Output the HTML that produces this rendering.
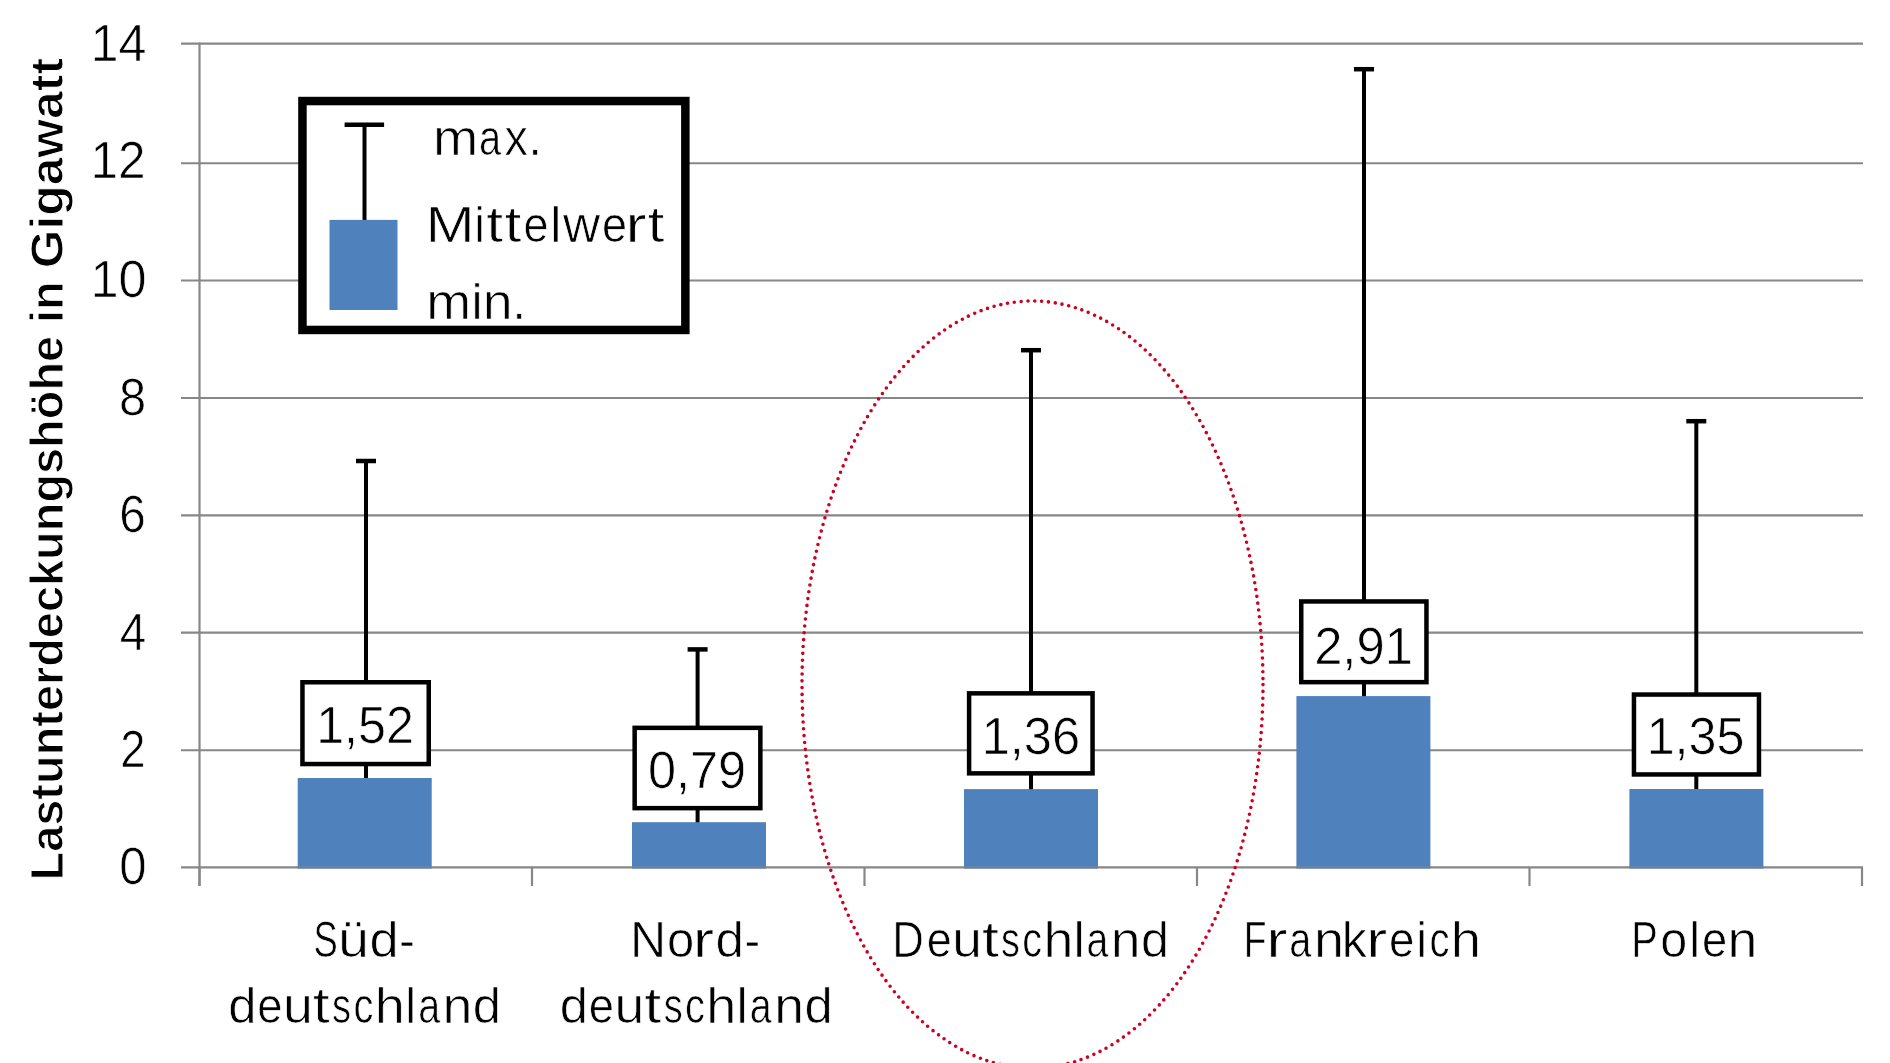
<!DOCTYPE html>
<html><head><meta charset="utf-8"><style>
html,body{margin:0;padding:0;background:#fff;width:1890px;height:1063px;overflow:hidden}
svg{display:block}
.t{font-family:"Liberation Sans", sans-serif;fill:#000;stroke:#fff;stroke-width:0.7px;filter:grayscale(1)}
.c{font-family:"Liberation Sans", sans-serif;fill:#000;stroke:#fff;stroke-width:0.7px;filter:grayscale(1)}
.b{font-family:"Liberation Sans", sans-serif;font-weight:bold;fill:#000;stroke:#fff;stroke-width:1.0px}
</style></head><body>
<svg width="1890" height="1063" viewBox="0 0 1890 1063">
<line x1="181" y1="43.69" x2="1863" y2="43.69" stroke="#878787" stroke-width="2.2"/>
<line x1="181" y1="163.27" x2="1863" y2="163.27" stroke="#878787" stroke-width="2.2"/>
<line x1="181" y1="280.52" x2="1863" y2="280.52" stroke="#878787" stroke-width="2.2"/>
<line x1="181" y1="397.98" x2="1863" y2="397.98" stroke="#878787" stroke-width="2.2"/>
<line x1="181" y1="515.38" x2="1863" y2="515.38" stroke="#878787" stroke-width="2.2"/>
<line x1="181" y1="632.70" x2="1863" y2="632.70" stroke="#878787" stroke-width="2.2"/>
<line x1="181" y1="750.24" x2="1863" y2="750.24" stroke="#878787" stroke-width="2.2"/>
<line x1="181" y1="867.42" x2="1863" y2="867.42" stroke="#878787" stroke-width="2.2"/>
<line x1="199.5" y1="42.49" x2="199.5" y2="886" stroke="#878787" stroke-width="2.2"/>
<line x1="199.50" y1="867.42" x2="199.50" y2="886" stroke="#878787" stroke-width="2.2"/>
<line x1="532.00" y1="867.42" x2="532.00" y2="886" stroke="#878787" stroke-width="2.2"/>
<line x1="864.50" y1="867.42" x2="864.50" y2="886" stroke="#878787" stroke-width="2.2"/>
<line x1="1197.00" y1="867.42" x2="1197.00" y2="886" stroke="#878787" stroke-width="2.2"/>
<line x1="1529.50" y1="867.42" x2="1529.50" y2="886" stroke="#878787" stroke-width="2.2"/>
<line x1="1862.00" y1="867.42" x2="1862.00" y2="886" stroke="#878787" stroke-width="2.2"/>
<text x="90.47" y="60.56" class="t" style="font-size:52.5px" textLength="55.90" lengthAdjust="spacingAndGlyphs">14</text>
<text x="90.52" y="178.13" class="t" style="font-size:52.5px" textLength="55.17" lengthAdjust="spacingAndGlyphs">12</text>
<text x="90.46" y="297.27" class="t" style="font-size:52.5px" textLength="56.11" lengthAdjust="spacingAndGlyphs">10</text>
<text x="118.98" y="414.87" class="t" style="font-size:52.5px" textLength="27.14" lengthAdjust="spacingAndGlyphs">8</text>
<text x="119.28" y="532.27" class="t" style="font-size:52.5px" textLength="26.52" lengthAdjust="spacingAndGlyphs">6</text>
<text x="119.81" y="649.66" class="t" style="font-size:52.5px" textLength="26.49" lengthAdjust="spacingAndGlyphs">4</text>
<text x="120.21" y="767.23" class="t" style="font-size:52.5px" textLength="25.27" lengthAdjust="spacingAndGlyphs">2</text>
<text x="119.18" y="884.47" class="t" style="font-size:52.5px" textLength="27.34" lengthAdjust="spacingAndGlyphs">0</text>
<line x1="366.0" y1="461.00" x2="366.0" y2="779.00" stroke="#000" stroke-width="4"/>
<line x1="356.0" y1="461.00" x2="376.0" y2="461.00" stroke="#000" stroke-width="4.5"/>
<rect x="297.70" y="778.00" width="134" height="90.52" fill="#4F81BD"/>
<line x1="297.70" y1="867.42" x2="431.70" y2="867.42" stroke="#878787" stroke-width="2.2" stroke-opacity="0.55"/>
<rect x="302.45" y="682.25" width="126.30" height="81.80" fill="#fff" stroke="#000" stroke-width="4.5"/>
<text x="316.17" y="743.30" class="t" style="font-size:52.5px" textLength="97.75" lengthAdjust="spacingAndGlyphs">1,52</text>
<line x1="697.6" y1="649.40" x2="697.6" y2="823.20" stroke="#000" stroke-width="4"/>
<line x1="687.6" y1="649.40" x2="707.6" y2="649.40" stroke="#000" stroke-width="4.5"/>
<rect x="632.00" y="822.20" width="134" height="46.32" fill="#4F81BD"/>
<line x1="632.00" y1="867.42" x2="766.00" y2="867.42" stroke="#878787" stroke-width="2.2" stroke-opacity="0.55"/>
<rect x="634.65" y="727.85" width="125.70" height="80.30" fill="#fff" stroke="#000" stroke-width="4.5"/>
<text x="648.03" y="788.00" class="t" style="font-size:52.5px" textLength="98.16" lengthAdjust="spacingAndGlyphs">0,79</text>
<line x1="1031.0" y1="350.20" x2="1031.0" y2="790.10" stroke="#000" stroke-width="4"/>
<line x1="1021.0" y1="350.20" x2="1041.0" y2="350.20" stroke="#000" stroke-width="4.5"/>
<rect x="964.00" y="789.10" width="134" height="79.42" fill="#4F81BD"/>
<line x1="964.00" y1="867.42" x2="1098.00" y2="867.42" stroke="#878787" stroke-width="2.2" stroke-opacity="0.55"/>
<rect x="969.10" y="693.35" width="123.45" height="80.00" fill="#fff" stroke="#000" stroke-width="4.5"/>
<text x="981.64" y="753.50" class="t" style="font-size:52.5px" textLength="98.58" lengthAdjust="spacingAndGlyphs">1,36</text>
<line x1="1364.0" y1="69.20" x2="1364.0" y2="697.10" stroke="#000" stroke-width="4"/>
<line x1="1354.0" y1="69.20" x2="1374.0" y2="69.20" stroke="#000" stroke-width="4.5"/>
<rect x="1296.40" y="696.10" width="134" height="172.42" fill="#4F81BD"/>
<line x1="1296.40" y1="867.42" x2="1430.40" y2="867.42" stroke="#878787" stroke-width="2.2" stroke-opacity="0.55"/>
<rect x="1301.25" y="601.45" width="125.20" height="80.70" fill="#fff" stroke="#000" stroke-width="4.5"/>
<text x="1314.15" y="663.50" class="t" style="font-size:52.5px" textLength="98.73" lengthAdjust="spacingAndGlyphs">2,91</text>
<line x1="1696.3" y1="421.20" x2="1696.3" y2="790.00" stroke="#000" stroke-width="4"/>
<line x1="1686.3" y1="421.20" x2="1706.3" y2="421.20" stroke="#000" stroke-width="4.5"/>
<rect x="1629.40" y="789.00" width="134" height="79.52" fill="#4F81BD"/>
<line x1="1629.40" y1="867.42" x2="1763.40" y2="867.42" stroke="#878787" stroke-width="2.2" stroke-opacity="0.55"/>
<rect x="1633.95" y="694.55" width="125.00" height="79.90" fill="#fff" stroke="#000" stroke-width="4.5"/>
<text x="1646.67" y="753.50" class="t" style="font-size:52.5px" textLength="97.84" lengthAdjust="spacingAndGlyphs">1,35</text>
<rect x="302.45" y="101.05" width="382.90" height="228.90" fill="#fff" stroke="#000" stroke-width="8.5"/>
<line x1="364.5" y1="124.7" x2="364.5" y2="221" stroke="#000" stroke-width="4"/>
<line x1="344.6" y1="124.7" x2="384.1" y2="124.7" stroke="#000" stroke-width="4.4"/>
<rect x="329.5" y="219.9" width="68" height="90.1" fill="#4F81BD"/>
<g class="c" style="font-size:50px"><text transform="translate(455.65,155.30) scale(1.088,1)" x="-20.84" y="0">m</text><text transform="translate(490.99,155.30) scale(0.795,1)" x="-14.97" y="0">a</text><text transform="translate(516.26,155.30) scale(0.936,1)" x="-12.51" y="0">x</text><text transform="translate(535.26,155.30) scale(1.000,1)" x="-6.95" y="0">.</text></g>
<g class="c" style="font-size:50px"><text transform="translate(450.06,241.80) scale(1.181,1)" x="-20.83" y="0">M</text><text transform="translate(479.61,241.80) scale(1.000,1)" x="-5.54" y="0">i</text><text transform="translate(495.00,241.80) scale(1.216,1)" x="-7.14" y="0">t</text><text transform="translate(513.26,241.80) scale(1.216,1)" x="-7.14" y="0">t</text><text transform="translate(535.95,241.80) scale(0.900,1)" x="-13.85" y="0">e</text><text transform="translate(555.76,241.80) scale(1.000,1)" x="-5.57" y="0">l</text><text transform="translate(581.50,241.80) scale(1.028,1)" x="-18.08" y="0">w</text><text transform="translate(614.54,241.80) scale(0.900,1)" x="-13.85" y="0">e</text><text transform="translate(637.60,241.80) scale(1.259,1)" x="-9.57" y="0">r</text><text transform="translate(656.23,241.80) scale(1.216,1)" x="-7.14" y="0">t</text></g>
<g class="c" style="font-size:50px"><text transform="translate(448.80,319.00) scale(1.079,1)" x="-20.84" y="0">m</text><text transform="translate(477.03,319.00) scale(1.000,1)" x="-5.54" y="0">i</text><text transform="translate(497.74,319.00) scale(1.073,1)" x="-13.94" y="0">n</text><text transform="translate(519.09,319.00) scale(1.000,1)" x="-6.95" y="0">.</text></g>
<g class="c" style="font-size:50.5px"><text transform="translate(325.68,956.80) scale(0.721,1)" x="-16.83" y="0">S</text><text transform="translate(353.63,956.80) scale(1.099,1)" x="-14.15" y="0">ü</text><text transform="translate(383.45,956.80) scale(1.038,1)" x="-13.48" y="0">d</text><text transform="translate(407.05,956.80) scale(0.949,1)" x="-8.41" y="0">-</text></g>
<g class="c" style="font-size:50.5px"><text transform="translate(241.70,1023.00) scale(1.004,1)" x="-13.48" y="0">d</text><text transform="translate(269.79,1023.00) scale(0.898,1)" x="-13.99" y="0">e</text><text transform="translate(297.87,1023.00) scale(1.063,1)" x="-14.01" y="0">u</text><text transform="translate(321.49,1023.00) scale(1.213,1)" x="-7.21" y="0">t</text><text transform="translate(341.42,1023.00) scale(0.751,1)" x="-12.42" y="0">s</text><text transform="translate(363.77,1023.00) scale(0.789,1)" x="-13.03" y="0">c</text><text transform="translate(389.80,1023.00) scale(1.071,1)" x="-14.15" y="0">h</text><text transform="translate(410.52,1023.00) scale(1.000,1)" x="-5.62" y="0">l</text><text transform="translate(429.98,1023.00) scale(0.781,1)" x="-15.12" y="0">a</text><text transform="translate(457.55,1023.00) scale(1.063,1)" x="-14.08" y="0">n</text><text transform="translate(486.40,1023.00) scale(1.004,1)" x="-13.48" y="0">d</text></g>
<g class="c" style="font-size:50.5px"><text transform="translate(648.11,956.80) scale(0.993,1)" x="-18.25" y="0">N</text><text transform="translate(680.62,956.80) scale(0.970,1)" x="-14.04" y="0">o</text><text transform="translate(704.91,956.80) scale(1.267,1)" x="-9.67" y="0">r</text><text transform="translate(729.13,956.80) scale(1.014,1)" x="-13.48" y="0">d</text><text transform="translate(752.19,956.80) scale(0.927,1)" x="-8.41" y="0">-</text></g>
<g class="c" style="font-size:50.5px"><text transform="translate(573.30,1023.00) scale(1.004,1)" x="-13.48" y="0">d</text><text transform="translate(601.39,1023.00) scale(0.898,1)" x="-13.99" y="0">e</text><text transform="translate(629.47,1023.00) scale(1.063,1)" x="-14.01" y="0">u</text><text transform="translate(653.09,1023.00) scale(1.213,1)" x="-7.21" y="0">t</text><text transform="translate(673.02,1023.00) scale(0.751,1)" x="-12.42" y="0">s</text><text transform="translate(695.37,1023.00) scale(0.789,1)" x="-13.03" y="0">c</text><text transform="translate(721.40,1023.00) scale(1.071,1)" x="-14.15" y="0">h</text><text transform="translate(742.12,1023.00) scale(1.000,1)" x="-5.62" y="0">l</text><text transform="translate(761.58,1023.00) scale(0.781,1)" x="-15.12" y="0">a</text><text transform="translate(789.15,1023.00) scale(1.063,1)" x="-14.08" y="0">n</text><text transform="translate(818.00,1023.00) scale(1.004,1)" x="-13.48" y="0">d</text></g>
<g class="c" style="font-size:50.5px"><text transform="translate(908.86,956.80) scale(0.867,1)" x="-19.10" y="0">D</text><text transform="translate(939.21,956.80) scale(0.892,1)" x="-13.99" y="0">e</text><text transform="translate(967.10,956.80) scale(1.056,1)" x="-14.01" y="0">u</text><text transform="translate(990.56,956.80) scale(1.205,1)" x="-7.21" y="0">t</text><text transform="translate(1010.36,956.80) scale(0.746,1)" x="-12.42" y="0">s</text><text transform="translate(1032.56,956.80) scale(0.784,1)" x="-13.03" y="0">c</text><text transform="translate(1058.42,956.80) scale(1.063,1)" x="-14.15" y="0">h</text><text transform="translate(1079.01,956.80) scale(1.000,1)" x="-5.62" y="0">l</text><text transform="translate(1098.33,956.80) scale(0.776,1)" x="-15.12" y="0">a</text><text transform="translate(1125.72,956.80) scale(1.056,1)" x="-14.08" y="0">n</text><text transform="translate(1154.37,956.80) scale(0.998,1)" x="-13.48" y="0">d</text></g>
<g class="c" style="font-size:50.5px"><text transform="translate(1256.00,956.80) scale(0.738,1)" x="-16.48" y="0">F</text><text transform="translate(1278.33,956.80) scale(1.263,1)" x="-9.67" y="0">r</text><text transform="translate(1301.20,956.80) scale(0.786,1)" x="-15.12" y="0">a</text><text transform="translate(1328.95,956.80) scale(1.070,1)" x="-14.08" y="0">n</text><text transform="translate(1356.03,956.80) scale(0.995,1)" x="-14.36" y="0">k</text><text transform="translate(1378.23,956.80) scale(1.263,1)" x="-9.67" y="0">r</text><text transform="translate(1401.61,956.80) scale(0.904,1)" x="-13.99" y="0">e</text><text transform="translate(1421.70,956.80) scale(1.000,1)" x="-5.60" y="0">i</text><text transform="translate(1439.72,956.80) scale(0.794,1)" x="-13.03" y="0">c</text><text transform="translate(1465.92,956.80) scale(1.077,1)" x="-14.15" y="0">h</text></g>
<g class="c" style="font-size:50.5px"><text transform="translate(1645.10,956.80) scale(0.789,1)" x="-17.58" y="0">P</text><text transform="translate(1673.74,956.80) scale(0.960,1)" x="-14.04" y="0">o</text><text transform="translate(1694.50,956.80) scale(1.000,1)" x="-5.62" y="0">l</text><text transform="translate(1714.45,956.80) scale(0.897,1)" x="-13.99" y="0">e</text><text transform="translate(1742.51,956.80) scale(1.062,1)" x="-14.08" y="0">n</text></g>
<g transform="translate(62.7,877.3) rotate(-90)" style="filter:grayscale(1)"><text x="-3.14" y="0" class="b" style="font-size:47px" textLength="544.54" lengthAdjust="spacingAndGlyphs">Lastunterdeckungshöhe</text><text x="554.31" y="0" class="b" style="font-size:47px" textLength="41.92" lengthAdjust="spacingAndGlyphs">in</text><text x="608.96" y="0" class="b" style="font-size:47px" textLength="210.35" lengthAdjust="spacingAndGlyphs">Gigawatt</text></g>
<ellipse cx="1032.5" cy="684.6" rx="230.5" ry="383.6" fill="none" stroke="#CC0020" stroke-width="3.6" stroke-dasharray="0 6.8749" stroke-linecap="round"/>
</svg>
</body></html>
